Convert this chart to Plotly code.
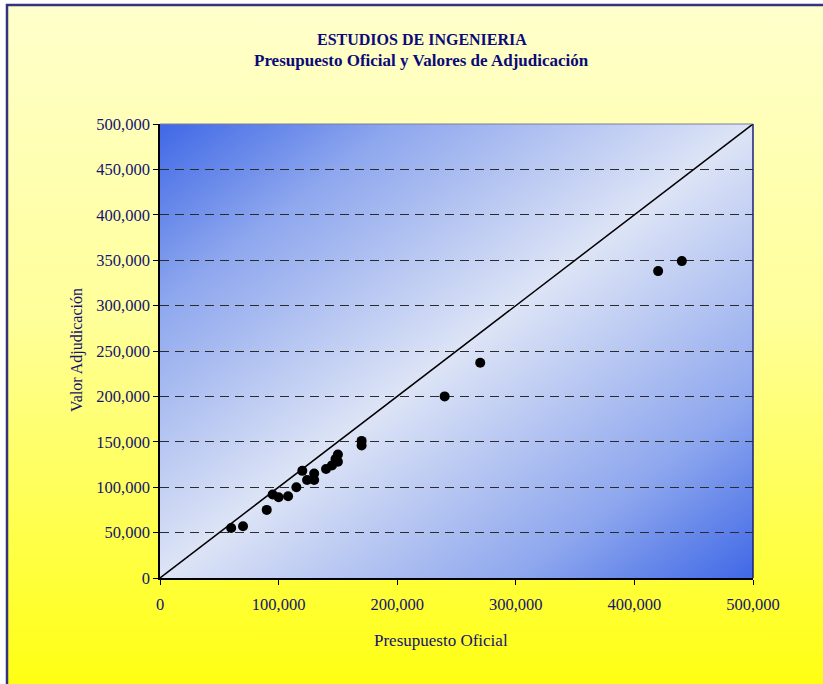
import base64
import plotly.graph_objects as go

# Budget (Presupuesto Oficial) vs awarded value (Valor Adjudicación)
presupuesto = [60000, 70000, 90000, 95000, 100000, 108000, 115000, 120000,
               124000, 130000, 130000, 140000, 145000, 148000, 150000, 150000,
               170000, 170000, 240000, 270000, 420000, 440000]
adjudicacion = [55000, 57000, 75000, 92000, 89000, 90000, 100000, 118000,
                108000, 115000, 108000, 120000, 124000, 131000, 136000, 128000,
                151000, 146000, 200000, 237000, 338000, 349000]

x_ticks = [0, 100000, 200000, 300000, 400000, 500000]
y_ticks = [0, 50000, 100000, 150000, 200000, 250000, 300000, 350000, 400000, 450000, 500000]
axis_max = 500000

W, H = 823, 684
ML, MR, MT, MB = 160, 70, 124, 106
PW, PH = W - ML - MR, H - MT - MB

NAVY = "#14146e"
FONT = "Liberation Serif, Times New Roman, serif"


def svg_uri(svg):
    return "data:image/svg+xml;base64," + base64.b64encode(svg.encode()).decode()


# Whole-chart backdrop: pale-to-bright yellow with a navy frame
chart_bg = svg_uri(
    f'<svg xmlns="http://www.w3.org/2000/svg" width="{W}" height="{H}" '
    f'viewBox="0 0 {W} {H}" preserveAspectRatio="none">'
    '<defs><linearGradient id="g" x1="0" y1="0" x2="0" y2="1">'
    '<stop offset="0" stop-color="#ffffcc"/>'
    '<stop offset="0.45" stop-color="#ffff99"/>'
    '<stop offset="1" stop-color="#ffff0a"/>'
    '</linearGradient></defs>'
    f'<rect x="0" y="0" width="{W}" height="{H}" fill="#ffffff"/>'
    f'<rect x="7" y="5" width="{W + 20}" height="{H + 20}" fill="url(#g)" '
    'stroke="#33337f" stroke-width="2.5"/>'
    '</svg>'
)

# Plot area: diagonal blue gradient, light along the rising diagonal
plot_bg = svg_uri(
    '<svg xmlns="http://www.w3.org/2000/svg" width="600" height="460" '
    'viewBox="0 0 600 460" preserveAspectRatio="none">'
    '<defs><linearGradient id="b" x1="0" y1="0" x2="1" y2="1">'
    '<stop offset="0" stop-color="#3f68e6"/>'
    '<stop offset="0.2" stop-color="#8ea7ee"/>'
    '<stop offset="0.5" stop-color="#dde4f6"/>'
    '<stop offset="0.8" stop-color="#8ea7ee"/>'
    '<stop offset="1" stop-color="#3f68e6"/>'
    '</linearGradient></defs>'
    '<rect x="0" y="0" width="600" height="460" fill="url(#b)"/>'
    '</svg>'
)

fig = go.Figure()

# Reference line: awarded value equal to budget
fig.add_trace(go.Scatter(
    x=[0, axis_max], y=[0, axis_max], mode="lines",
    line=dict(color="black", width=1.5), hoverinfo="skip", showlegend=False,
))

fig.add_trace(go.Scatter(
    x=presupuesto, y=adjudicacion, mode="markers",
    marker=dict(color="black", size=10, line=dict(width=0)),
    showlegend=False,
))

tick_font = dict(family=FONT, color=NAVY, size=16.5)

fig.update_layout(
    width=W, height=H,
    margin=dict(l=ML, r=MR, t=MT, b=MB, pad=0),
    paper_bgcolor="white",
    plot_bgcolor="rgba(0,0,0,0)",
    font=dict(family=FONT, color=NAVY, size=16),
    images=[
        dict(source=chart_bg, xref="paper", yref="paper",
             x=-ML / PW, y=(PH + MT) / PH, sizex=W / PW, sizey=H / PH,
             xanchor="left", yanchor="top", sizing="stretch", layer="below"),
        dict(source=plot_bg, xref="x domain", yref="y domain",
             x=0, y=1, sizex=1, sizey=1,
             xanchor="left", yanchor="top", sizing="stretch", layer="below"),
    ],
    xaxis=dict(
        range=[0, axis_max], tickvals=x_ticks, tickformat=",d",
        showgrid=False, zeroline=False,
        showline=True, linecolor="black", linewidth=1.5,
        ticks="outside", ticklen=5, tickcolor="black",
        ticklabelstandoff=5,
        tickfont=tick_font,
    ),
    yaxis=dict(
        range=[0, axis_max], tickvals=y_ticks, tickformat=",d",
        showgrid=True, gridcolor="#2b2b2b", gridwidth=1, griddash="9px,6px",
        zeroline=False,
        showline=True, linecolor="black", linewidth=1.5,
        ticks="outside", ticklen=5, tickcolor="black",
        tickfont=tick_font,
    ),
    shapes=[
        dict(type="line", xref="x domain", yref="y domain", x0=0, x1=1, y0=1, y1=1,
             line=dict(color="#7d7d9a", width=1)),
        dict(type="line", xref="x domain", yref="y domain", x0=1, x1=1, y0=0, y1=1,
             line=dict(color="#1e1e78", width=1.5)),
    ],
    annotations=[
        dict(text="<b>ESTUDIOS DE INGENIERIA</b>", xref="paper", yref="paper",
             x=(422 - ML) / PW, y=(H - MB - 40) / PH, showarrow=False,
             xanchor="center", yanchor="middle",
             font=dict(family=FONT, size=16, color="#0a0a78")),
        dict(text="<b>Presupuesto Oficial y Valores de Adjudicación</b>",
             xref="paper", yref="paper",
             x=(421 - ML) / PW, y=(H - MB - 60) / PH, showarrow=False,
             xanchor="center", yanchor="middle",
             font=dict(family=FONT, size=17, color="#0a0a78")),
        dict(text="Presupuesto Oficial", xref="paper", yref="paper",
             x=(441 - ML) / PW, y=(H - MB - 640) / PH, showarrow=False,
             xanchor="center", yanchor="middle",
             font=dict(family=FONT, size=17, color=NAVY)),
        dict(text="Valor Adjudicación", xref="paper", yref="paper",
             x=(77 - ML) / PW, y=(H - MB - 350) / PH, showarrow=False,
             textangle=-90, xanchor="center", yanchor="middle",
             font=dict(family=FONT, size=16, color=NAVY)),
    ],
    hovermode=False,
)

fig.write_html("out.html", config={"displayModeBar": False})
